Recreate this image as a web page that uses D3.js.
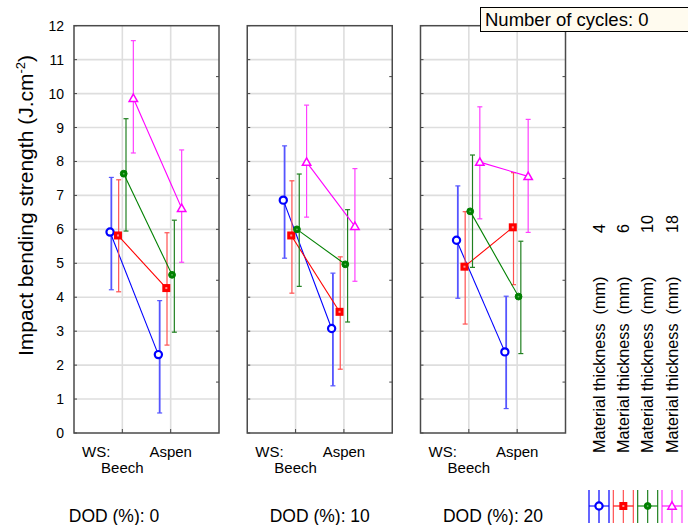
<!DOCTYPE html>
<html><head><meta charset="utf-8">
<script src="https://cdn.jsdelivr.net/npm/d3@7"></script>
<style>html,body{margin:0;padding:0;background:#fff;} svg{display:block;font-family:"Liberation Sans",Arial,sans-serif;}</style>
</head><body>
<svg id="chart" width="688" height="525"></svg>
<script>
// ---- data ----
const panels = ["DOD (%): 0", "DOD (%): 10", "DOD (%): 20"];
const species = ["Beech", "Aspen"];
const thickness = ["4", "6", "10", "18"];
const yTicks = [0,1,2,3,4,5,6,7,8,9,10,11,12];
const yRightTicks = [1.5,3,4.5,6,7.5,9,10.5];
// means [panel][species]
const mean4  = [[5.92, 2.31], [6.86, 3.08], [5.68, 2.39]];
const mean6  = [[5.82, 4.27], [5.82, 3.57], [4.90, 6.06]];
const mean10 = [[7.64, 4.66], [6.00, 4.97], [6.53, 4.02]];
const mean18 = [[9.86, 6.62], [7.98, 6.09], [7.98, 7.56]];
// upper confidence limits
const upper4  = [[7.53, 3.90], [8.46, 4.71], [7.28, 4.03]];
const upper6  = [[7.46, 5.90], [7.43, 5.19], [6.52, 7.67]];
const upper10 = [[9.26, 6.27], [7.63, 6.58], [8.19, 5.65]];
const upper18 = [[11.56, 8.34], [9.66, 7.79], [9.61, 9.24]];
// lower confidence limits
const lower4  = [[4.22, 0.59], [5.15, 1.39], [3.97, 0.72]];
const lower6  = [[4.16, 2.59], [4.12, 1.88], [3.21, 4.37]];
const lower10 = [[5.95, 2.97], [4.32, 3.27], [4.88, 2.34]];
const lower18 = [[8.25, 5.03], [6.36, 4.47], [6.31, 5.91]];

const series = [
  {name: thickness[0], mean: mean4,  up: upper4,  lo: lower4},
  {name: thickness[1], mean: mean6,  up: upper6,  lo: lower6},
  {name: thickness[2], mean: mean10, up: upper10, lo: lower10},
  {name: thickness[3], mean: mean18, up: upper18, lo: lower18}
];
// ---- styles ----
const colors = ["#0000ff", "#ff0000", "#008000", "#ff00ff"];
const errWidth = [1.8, 1.2, 1.2, 1.2];
const errColor = ["#5555ff", "#ff5050", "#208020", "#ff40ff"];
const markerShift = [-1.3, -0.7, -2.3, 0];

const svg = d3.select("#chart");
const font = '"Liberation Sans", Arial, sans-serif';

const panelX = d3.scaleBand().domain(panels).range([74, 565.5]).paddingInner(0.163).paddingOuter(0);
const pw = panelX.bandwidth();
const y = d3.scaleLinear().domain([0, 12]).range([433, 25.7]);
const xCat = d3.scalePoint().domain(species).range([0, pw]).padding(1);
const xSer = d3.scalePoint().domain(thickness).range([-11, 11]);

function marker(g, i, cx, cy) {
  const c = colors[i];
  if (i === 0) {
    g.append("circle").attr("cx", cx).attr("cy", cy).attr("r", 3.6)
      .attr("fill", "#fff").attr("stroke", c).attr("stroke-width", 2.2);
  } else if (i === 1) {
    g.append("rect").attr("x", cx - 4).attr("y", cy - 4).attr("width", 8).attr("height", 8)
      .attr("fill", c);
    g.append("rect").attr("x", cx - 1).attr("y", cy - 1).attr("width", 2).attr("height", 2)
      .attr("fill", "#ff9090");
  } else if (i === 2) {
    g.append("circle").attr("cx", cx).attr("cy", cy).attr("r", 3.4)
      .attr("fill", c).attr("stroke", c).attr("stroke-width", 1);
    g.append("circle").attr("cx", cx).attr("cy", cy).attr("r", 0.9).attr("fill", "#60b060");
  } else {
    const s = 4.2;
    g.append("path")
      .attr("d", `M${cx},${cy - s}L${cx + s},${cy + s * 0.75}L${cx - s},${cy + s * 0.75}Z`)
      .attr("fill", "#fff").attr("stroke", c).attr("stroke-width", 1.5);
  }
}

panels.forEach((p, pi) => {
  const x0 = panelX(p);
  const g = svg.append("g").attr("transform", `translate(${x0},0)`);
  g.selectAll(".hg").data(yTicks.filter(d => d > 0 && d < 12)).join("line")
    .attr("x1", 0).attr("x2", pw).attr("y1", d => y(d)).attr("y2", d => y(d))
    .attr("stroke", "#dedede").attr("stroke-width", 1.6);
  g.selectAll(".vg").data(species).join("line")
    .attr("x1", d => xCat(d)).attr("x2", d => xCat(d)).attr("y1", y(12)).attr("y2", y(0))
    .attr("stroke", "#dedede").attr("stroke-width", 1.6);
  g.selectAll(".lt").data(yTicks).join("line")
    .attr("x1", 0).attr("x2", 3).attr("y1", d => y(d)).attr("y2", d => y(d))
    .attr("stroke", "#444").attr("stroke-width", 1);
  g.selectAll(".rt").data(yRightTicks).join("line")
    .attr("x1", pw - 3).attr("x2", pw).attr("y1", d => y(d)).attr("y2", d => y(d))
    .attr("stroke", "#444").attr("stroke-width", 1);
  g.selectAll(".bt").data(species).join("line")
    .attr("x1", d => xCat(d)).attr("x2", d => xCat(d)).attr("y1", y(0) - 4).attr("y2", y(0))
    .attr("stroke", "#444").attr("stroke-width", 1);
  g.append("rect").attr("x", 0).attr("y", y(12)).attr("width", pw).attr("height", y(0) - y(12))
    .attr("fill", "none").attr("stroke", "#4a4a4a").attr("stroke-width", 1.5);

  series.forEach((s, si) => {
    const sg = g.append("g");
    const pts = species.map((sp, ci) => ({
      x: xCat(sp) + xSer(s.name),
      m: s.mean[pi][ci], u: s.up[pi][ci], l: s.lo[pi][ci]
    }));
    pts.forEach(d => {
      sg.append("line").attr("x1", d.x).attr("x2", d.x).attr("y1", y(d.u)).attr("y2", y(d.l))
        .attr("stroke", errColor[si]).attr("stroke-width", errWidth[si]);
      [d.u, d.l].forEach(v => sg.append("line").attr("x1", d.x - 2.5).attr("x2", d.x + 2.5)
        .attr("y1", y(v)).attr("y2", y(v)).attr("stroke", errColor[si]).attr("stroke-width", 1.2));
    });
    sg.append("path")
      .attr("d", d3.line().x(d => d.x + markerShift[si]).y(d => y(d.m))(pts))
      .attr("fill", "none").attr("stroke", colors[si]).attr("stroke-width", 1.1);
    pts.forEach(d => marker(sg, si, d.x + markerShift[si], y(d.m)));
  });

  g.append("text").attr("x", 8).attr("y", 456.5).attr("font-size", 15).text("WS:");
  species.forEach((sp, ci) => {
    g.append("text").attr("x", xCat(sp)).attr("y", ci === 0 ? 473 : 456.5)
      .attr("text-anchor", "middle").attr("font-size", 15).text(sp);
  });
  const cellLeft = pi === 0 ? 9 - x0 : 0;
  g.append("text").attr("x", (cellLeft + pw) / 2).attr("y", 521.5)
    .attr("text-anchor", "middle").attr("font-size", 17.5).text(p);
});

const ax = svg.append("g").attr("transform", `translate(${panelX(panels[0])},0)`)
  .call(d3.axisLeft(y).tickValues(yTicks).tickSize(0).tickPadding(10).tickFormat(d3.format("d")));
ax.select(".domain").remove();
ax.selectAll("text").attr("font-size", 14).attr("font-family", font).attr("fill", "#000");

const yt = svg.append("text").attr("transform", "translate(33,356) rotate(-90)")
  .attr("font-size", 21).attr("fill", "#000");
yt.append("tspan").text("Impact bending strength (J.cm");
yt.append("tspan").attr("font-size", 13).attr("dy", -8).text("-2");
yt.append("tspan").attr("dy", 8).text(")");

svg.append("rect").attr("x", 480.5).attr("y", 7.5).attr("width", 220).attr("height", 24)
  .attr("fill", "#fffbef").attr("stroke", "#000").attr("stroke-width", 1);
svg.append("text").attr("x", 485).attr("y", 25.5).attr("font-size", 18.5).text("Number of cycles: 0");

const legX = d3.scalePoint().domain(thickness).range([599, 672]);
thickness.forEach((t, i) => {
  const cx = legX(t);
  svg.append("text").attr("transform", `translate(${cx + 5.5},453) rotate(-90)`)
    .attr("font-size", 16.2).style("white-space", "pre").text("Material thickness  (mm)");
  svg.append("text").attr("transform", `translate(${cx + 5.5},233) rotate(-90)`)
    .attr("font-size", 16.2).text(t);
  const lg = svg.append("g");
  [-10, 0, 10].forEach(dx => lg.append("line").attr("x1", cx + dx).attr("x2", cx + dx)
    .attr("y1", 490).attr("y2", 523).attr("stroke", errColor[i]).attr("stroke-width", errWidth[i]));
  lg.append("line").attr("x1", cx - 10).attr("x2", cx + 10).attr("y1", 506).attr("y2", 506)
    .attr("stroke", colors[i]).attr("stroke-width", 1.1);
  marker(lg, i, cx, 506);
});
</script>
</body></html>
